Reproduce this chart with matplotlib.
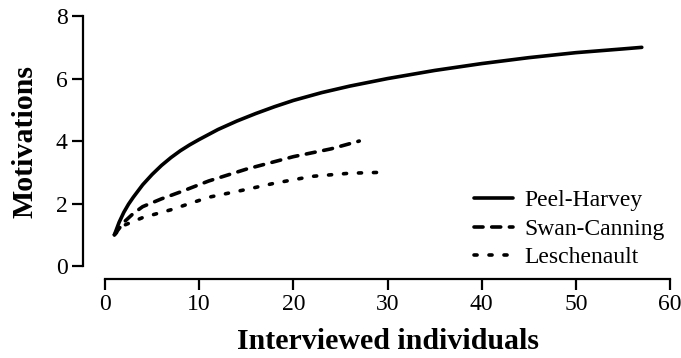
import matplotlib
matplotlib.use("Agg")
import matplotlib.pyplot as plt

plt.rcParams['font.family'] = ['Liberation Serif', 'DejaVu Serif']

# accumulation of motivations with number of interviewed people, per estuary
peel_x = [1, 1.5, 2, 2.5, 3, 4, 5, 6, 7, 8, 9, 10, 12, 14, 16, 18, 20, 23, 26,
          30, 35, 40, 45, 50, 55, 57]
peel_y = [1.0, 1.4, 1.72, 1.98, 2.2, 2.6, 2.93, 3.22, 3.47, 3.69, 3.88, 4.05,
          4.37, 4.64, 4.88, 5.1, 5.3, 5.55, 5.76, 6.0, 6.26, 6.48, 6.67, 6.83,
          6.95, 7.0]

swan_x = [1, 2, 3, 4, 6, 8, 11, 15, 20, 24, 27]
swan_y = [1.0, 1.4, 1.68, 1.9, 2.15, 2.37, 2.72, 3.1, 3.5, 3.75, 4.0]

lesch_x = [1, 2, 4, 7, 11, 15, 18, 22, 26, 29.5]
lesch_y = [1.0, 1.3, 1.55, 1.8, 2.2, 2.45, 2.65, 2.87, 2.97, 3.0]

labels = ['Peel-Harvey', 'Swan-Canning', 'Leschenault']

fig = plt.figure(figsize=(6.81, 3.58), dpi=100)
ax = fig.add_axes([0.1542, 0.257, 0.8297, 0.698])

ax.plot(peel_x, peel_y, color='black', lw=2.6, solid_capstyle='round',
        solid_joinstyle='round', label=labels[0])
ax.plot(swan_x, swan_y, color='black', lw=2.6, dashes=(2.5, 2.4),
        dash_capstyle='round', label=labels[1])
ax.plot(lesch_x, lesch_y, color='black', lw=2.6, dashes=(0.85, 3.3),
        dash_capstyle='round', label=labels[2])

ax.set_xlim(0, 60)
ax.set_ylim(0, 8)
ax.set_xticks(range(0, 61, 10))
ax.set_yticks(range(0, 9, 2))

for side in ['top', 'right']:
    ax.spines[side].set_visible(False)
ax.spines['left'].set_position(('outward', 16))
ax.spines['bottom'].set_position(('outward', 9.5))
ax.spines['left'].set_bounds(0, 8)
ax.spines['bottom'].set_bounds(0, 60)
for side in ['left', 'bottom']:
    ax.spines[side].set_linewidth(1.6)
ax.tick_params(axis='both', direction='out', length=8, width=1.6,
               labelsize=17, pad=3)

ax.set_xlabel('Interviewed individuals', fontsize=21.5, fontweight='bold', labelpad=9)
ax.set_ylabel('Motivations', fontsize=21.5, fontweight='bold', labelpad=12)

leg = ax.legend(loc='center left', bbox_to_anchor=(0.632, 0.148), frameon=False,
                fontsize=17, handlelength=1.65, handletextpad=0.5,
                labelspacing=0.3, borderpad=0)

fig.savefig('out.png', dpi=100)
